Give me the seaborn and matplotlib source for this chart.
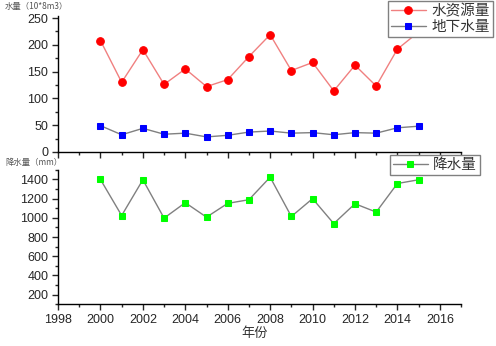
"""
水资源量 / 地下水量 / 降水量 年际变化图
"""
import matplotlib
matplotlib.use('Agg')
import matplotlib.pyplot as plt
import seaborn as sns
import pandas as pd
from matplotlib.ticker import MultipleLocator

# --- 数据 ---
years = list(range(2000, 2016))
water_total = [208, 130, 191, 126, 155, 122, 135, 178, 219, 152, 167, 114, 162, 123, 192, 224]
groundwater = [49, 32, 44, 33, 35, 28, 31, 37, 39, 35, 36, 32, 36, 35, 45, 48]
rainfall = [1400, 1024, 1397, 997, 1158, 1007, 1151, 1189, 1424, 1014, 1200, 940, 1147, 1060, 1358, 1397]

df = pd.DataFrame({'年份': years, '水资源量': water_total,
                   '地下水量': groundwater, '降水量': rainfall})

# --- 样式 ---
sns.set_style("ticks")
plt.rcParams['font.family'] = ['Liberation Sans', 'Noto Sans CJK SC', 'DejaVu Sans']
plt.rcParams['axes.unicode_minus'] = False
cjk = ['Noto Sans CJK SC', 'DejaVu Sans']

fig = plt.figure(figsize=(4.96, 3.46), dpi=100)
ax1 = fig.add_axes([0.117, 0.561, 0.8125, 0.393])
ax2 = fig.add_axes([0.117, 0.121, 0.8125, 0.388])

# 上图: 水资源量 + 地下水量
sns.lineplot(data=df, x='年份', y='水资源量', ax=ax1, color='#f08080', lw=1,
             marker='o', markersize=5.5, markerfacecolor='#ff0000',
             markeredgecolor='#ff0000', label='水资源量')
sns.lineplot(data=df, x='年份', y='地下水量', ax=ax1, color='#808080', lw=1,
             marker='s', markersize=4.3, markerfacecolor='#0000ff',
             markeredgecolor='#0000ff', label='地下水量')

# 下图: 降水量
sns.lineplot(data=df, x='年份', y='降水量', ax=ax2, color='#808080', lw=1,
             marker='s', markersize=4.7, markerfacecolor='#00ff00',
             markeredgecolor='#00ff00', label='降水量')

for ax in (ax1, ax2):
    ax.set_xlim(1998, 2017)
    ax.xaxis.set_major_locator(MultipleLocator(2))
    ax.xaxis.set_minor_locator(MultipleLocator(1))
    ax.set_xlabel('')
    ax.set_ylabel('')
    ax.tick_params(which='major', direction='out', length=4, width=1, labelsize=9, pad=3)
    ax.tick_params(which='minor', direction='out', length=2.5, width=1)
    for s in ('top', 'right'):
        ax.spines[s].set_visible(False)
    for s in ('left', 'bottom'):
        ax.spines[s].set_linewidth(1)
        ax.spines[s].set_color('black')
    ax.grid(False)

ax1.set_ylim(0, 254)
ax1.yaxis.set_major_locator(MultipleLocator(50))
ax1.yaxis.set_minor_locator(MultipleLocator(25))
ax1.tick_params(axis='x', labelbottom=False)

ax2.set_ylim(100, 1500)
ax2.set_yticks(range(200, 1401, 200))
ax2.yaxis.set_minor_locator(MultipleLocator(100))

leg_kw = dict(loc='upper right', frameon=True, fancybox=False, framealpha=1,
              edgecolor='#808080', handlelength=2.4, handletextpad=0.4,
              borderpad=0.2, labelspacing=0.15, borderaxespad=0,
              prop={'family': cjk, 'size': 10.5})
leg1 = ax1.legend(bbox_to_anchor=(0.994, 0.997), bbox_transform=fig.transFigure, **leg_kw)
leg2 = ax2.legend(bbox_to_anchor=(0.968, 0.552), bbox_transform=fig.transFigure, **leg_kw)
for leg in (leg1, leg2):
    leg.get_frame().set_linewidth(1)
    leg.set_zorder(10)
    for t in leg.get_texts():
        t.set_color('#333333')

fig.text(0.01, 0.982, '水量（10*8m3）', fontsize=6, color='#555555', family=cjk, va='center')
fig.text(0.01, 1 - 163 / 346, '降水量（mm）', fontsize=6, color='#555555', family=cjk, va='center')
fig.text(0.514, 0.036, '年份', fontsize=9.5, color='#333333', family=cjk, ha='center', va='center')

fig.savefig('out.png', dpi=100)
